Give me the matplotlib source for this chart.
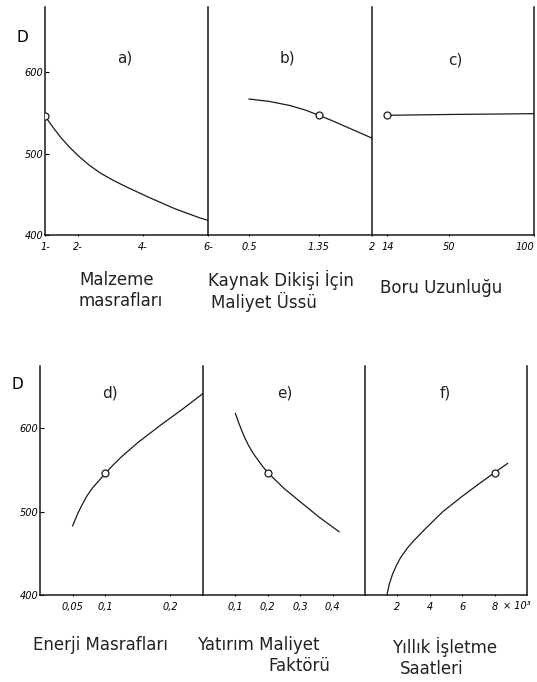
import matplotlib
matplotlib.use("Agg")
import matplotlib.pyplot as plt

# --------------------------------------------------
# Data (D vs. each cost parameter)
# --------------------------------------------------

# a) Malzeme masrafları
a_x = [1, 1.25, 1.5, 1.75, 2, 2.35, 2.7, 3.1, 3.5, 4.2, 5, 5.75, 6]
a_D = [546, 532, 519, 508, 498, 486, 476, 467, 459, 446, 432, 421, 418]

# b) Kaynak dikişi için maliyet üssü
b_x = [0.5, 0.75, 1.0, 1.2, 1.35, 1.5, 1.75, 2.0]
b_D = [567, 564, 559, 553, 547, 541, 530, 519]

# c) Boru uzunluğu
c_x = [14, 50, 100]
c_D = [547, 548, 549]

# d) Enerji masrafları
d_x = [0.05, 0.058, 0.065, 0.072, 0.08, 0.09, 0.1, 0.112, 0.125, 0.15, 0.185, 0.22, 0.25]
d_D = [483, 498, 509, 519, 528, 537, 546, 556, 566, 583, 604, 624, 642]

# e) Yatırım maliyet faktörü
e_x = [0.1, 0.11, 0.12, 0.13, 0.14, 0.155, 0.17, 0.185, 0.2, 0.25, 0.3, 0.36, 0.42]
e_D = [618, 607, 597, 588, 580, 570, 562, 554, 547, 528, 512, 493, 476]

# f) Yıllık işletme saatleri (x 10^3)
f_x = [1.35, 1.5, 1.7, 1.95, 2.2, 2.6, 3.0, 3.4, 3.8, 4.8, 5.9, 7.0, 8.0, 8.8]
f_D = [400, 413, 425, 436, 445, 456, 465, 473, 481, 500, 517, 533, 547, 558]

# reference (circled) point in each panel
opt_x = [1, 1.35, 14, 0.1, 0.2, 8]
opt_D = [546, 547, 547, 546, 547, 547]

panel_names = ["a)", "b)", "c)", "d)", "e)", "f)"]
x_ticks = [
    [1, 2, 4, 6],
    [0.5, 1.35, 2],
    [14, 50, 100],
    [0.05, 0.1, 0.2],
    [0.1, 0.2, 0.3, 0.4],
    [2, 4, 6, 8],
]
x_ticklabels = [
    ["1-", "2-", "4-", "6-"],
    ["0.5", "1.35", "2"],
    ["14", "50", "100"],
    ["0,05", "0,1", "0,2"],
    ["0,1", "0,2", "0,3", "0,4"],
    ["2", "4", "6", "8"],
]
x_limits = [(1, 6), (0, 2), (5, 100), (0, 0.25), (0, 0.5), (0, 10)]
y_ticks = [400, 500, 600]

series = [(a_x, a_D), (b_x, b_D), (c_x, c_D), (d_x, d_D), (e_x, e_D), (f_x, f_D)]

# --------------------------------------------------
# Figure
# --------------------------------------------------
W, H = 537, 682
fig = plt.figure(figsize=(W / 100, H / 100), dpi=100)
fig.patch.set_facecolor("white")

LINE = "#1a1a1a"
FONT = "DejaVu Sans"


def add_px_axes(left, right, top, bottom):
    return fig.add_axes([left / W, 1 - bottom / H, (right - left) / W, (bottom - top) / H])


rows = [
    {"edges": [45, 208, 372, 534], "top": 7, "bottom": 235, "ylim": (400, 680)},
    {"edges": [40, 203, 365, 527], "top": 366, "bottom": 595, "ylim": (400, 675)},
]
# panel letter positions (pixels)
letter_pos = [(125, 58), (287, 58), (455, 60), (110, 393), (285, 393), (445, 393)]

for r, row in enumerate(rows):
    for c in range(3):
        i = r * 3 + c
        ax = add_px_axes(row["edges"][c], row["edges"][c + 1], row["top"], row["bottom"])
        xs, Ds = series[i]
        ax.plot(xs, Ds, color=LINE, lw=0.9)
        ax.plot([opt_x[i]], [opt_D[i]], marker="o", ms=5, mfc="white", mec=LINE,
                mew=0.9, ls="none", zorder=3)
        ax.set_xlim(*x_limits[i])
        ax.set_ylim(*row["ylim"])

        ax.spines["top"].set_visible(False)
        ax.spines["right"].set_visible(c == 2)
        for s in ax.spines.values():
            s.set_linewidth(1.1)
            s.set_color(LINE)

        ax.set_xticks(x_ticks[i])
        ax.set_xticklabels(x_ticklabels[i], fontsize=7, style="italic")
        ax.tick_params(axis="x", length=2, width=0.8, pad=4, direction="inout")
        if i == 2:
            ax.get_xticklabels()[-1].set_ha("right")

        if c == 0:
            ax.set_yticks(y_ticks)
            ax.set_yticklabels([str(v) for v in y_ticks], fontsize=7, style="italic")
            ax.tick_params(axis="y", length=3, width=0.8, pad=1, direction="in")
        else:
            ax.tick_params(axis="y", left=False, labelleft=False)

        lx, ly = letter_pos[i]
        fig.text(lx / W, 1 - ly / H, panel_names[i], ha="center", va="center",
                 fontsize=11, family=FONT, color="#222222")

# "x 10^3" note beside the last axis of f)
fig.text(517 / W, 1 - 606 / H, "× 10³", fontsize=7, style="italic", ha="center", va="center")

# D axis labels
fig.text(22 / W, 1 - 37 / H, "D", fontsize=11, family=FONT, ha="center", va="center")
fig.text(17 / W, 1 - 384 / H, "D", fontsize=11, family=FONT, ha="center", va="center")

# parameter names under each panel
names = [
    ("Malzeme", 79, 280), ("masrafları", 79, 301),
    ("Kaynak Dikişi İçin", 208, 280), ("Maliyet Üssü", 211, 302),
    ("Boru Uzunluğu", 380, 288),
    ("Enerji Masrafları", 33, 645),
    ("Yatırım Maliyet", 197, 645), ("Faktörü", 268, 666),
    ("Yıllık İşletme", 392, 647), ("Saatleri", 400, 669),
]
for txt, x, y in names:
    fig.text(x / W, 1 - y / H, txt, fontsize=12, family=FONT, ha="left",
             va="center", color="#222222")

fig.savefig("out.png", dpi=100, facecolor="white")
